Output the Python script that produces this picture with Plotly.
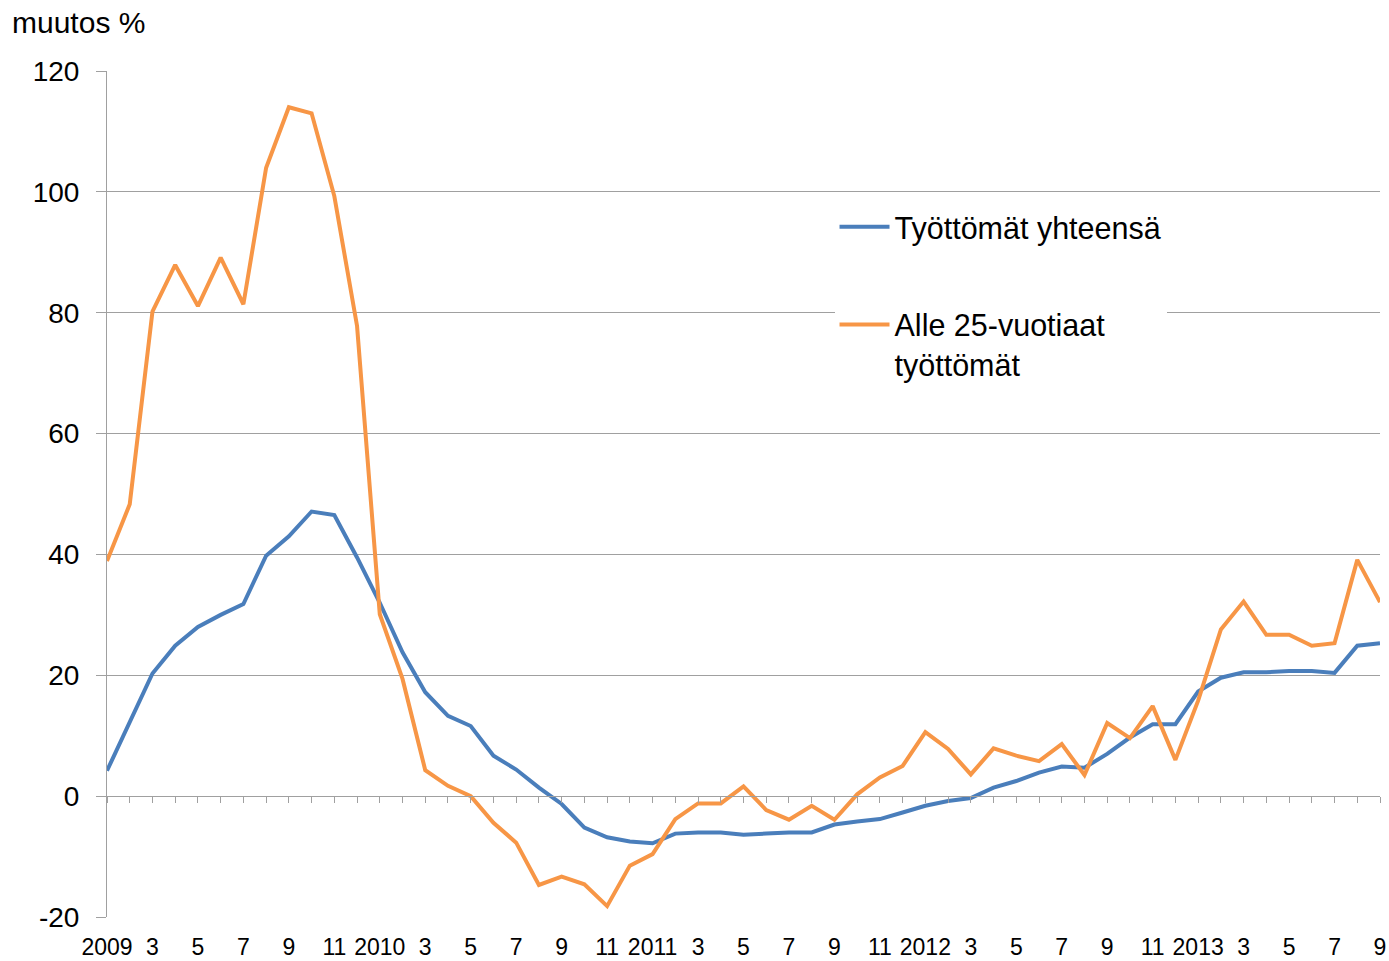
import plotly.graph_objects as go

# Months Jan 2009 .. Sep 2013
months = list(range(57))
tick_pos = list(range(0, 57, 2))
tick_text = []
for y in range(2009, 2014):
    for m in (1, 3, 5, 7, 9, 11):
        tick_text.append(str(y) if m == 1 else str(m))
tick_text = tick_text[:len(tick_pos)]

y_ticks = [-20, 0, 20, 40, 60, 80, 100, 120]
y_tick_text = ["-20", "0", "20", "40", "60", "80", "100", "120"]

total = [4.2, 12.2, 20.3, 24.9, 28.0, 30.0, 31.8, 39.8, 43.0, 47.1, 46.5, 39.5,
         32.0, 23.8, 17.2, 13.3, 11.6, 6.7, 4.4, 1.4, -1.3, -5.2, -6.8, -7.5,
         -7.8, -6.2, -6.0, -6.0, -6.4, -6.2, -6.0, -6.0, -4.7, -4.2, -3.8, -2.7,
         -1.6, -0.8, -0.3, 1.4, 2.5, 3.9, 4.9, 4.7, 7.0, 9.7, 11.9, 11.9,
         17.3, 19.6, 20.5, 20.5, 20.7, 20.7, 20.4, 24.9, 25.3]

youth = [38.9, 48.3, 80.2, 87.9, 81.1, 89.1, 81.4, 104.0, 114.0, 113.0, 99.3, 77.8,
         30.1, 19.4, 4.3, 1.7, 0.0, -4.4, -7.7, -14.7, -13.3, -14.6, -18.2, -11.5,
         -9.6, -3.8, -1.2, -1.2, 1.6, -2.3, -3.9, -1.6, -3.9, 0.3, 3.1, 5.0,
         10.6, 7.8, 3.6, 7.9, 6.7, 5.8, 8.6, 3.5, 12.1, 9.6, 14.9, 6.0,
         15.8, 27.6, 32.2, 26.7, 26.7, 24.9, 25.3, 39.1, 32.1]

names = ["Työttömät yhteensä", "Alle 25-vuotiaat<br>työttömät"]
colors = ["#4a7ebb", "#f79646"]

FONT = "Liberation Sans, Arial, sans-serif"
GRID = "#a0a0a0"

fig = go.Figure()
fig.add_trace(go.Scatter(x=months, y=total, mode="lines", name=names[0],
                         legendgroup="a",
                         line=dict(color=colors[0], width=4)))
fig.add_trace(go.Scatter(x=months, y=youth, mode="lines", name=names[1],
                         legendgroup="b", xaxis="x2",
                         line=dict(color=colors[1], width=4)))

fig.update_layout(
    width=1389, height=961,
    margin=dict(l=107, r=9, t=71, b=44, autoexpand=False),
    paper_bgcolor="white", plot_bgcolor="white",
    font=dict(family=FONT, color="#000000"),
    showlegend=True,
    legend=dict(
        x=0.5715, y=0.847, xanchor="left", yanchor="top",
        bgcolor="white", borderwidth=0,
        font=dict(family=FONT, size=30.5, color="#000000"),
        tracegroupgap=55, valign="top", itemwidth=50,
    ),
    xaxis=dict(
        range=[0, 56], tickmode="array", tickvals=tick_pos, ticktext=tick_text,
        ticks="", showgrid=False, zeroline=False, showline=False,
        tickfont=dict(family=FONT, size=23, color="#000000"),
        ticklabelstandoff=14, automargin=False,
    ),
    xaxis2=dict(
        range=[0, 56], overlaying="x", anchor="free", position=20 / 140,
        side="bottom", tickmode="linear", tick0=0, dtick=1,
        ticks="outside", ticklen=6, tickcolor=GRID, tickwidth=1,
        showticklabels=False, showgrid=False, zeroline=False,
        showline=True, linecolor=GRID, linewidth=1, automargin=False,
    ),
    yaxis=dict(
        range=[-20, 120], tickmode="array", tickvals=y_ticks, ticktext=y_tick_text,
        showgrid=True, gridcolor=GRID, gridwidth=1,
        zeroline=False, showline=True, linecolor=GRID, linewidth=1,
        ticks="outside", ticklen=10, tickcolor=GRID,
        tickfont=dict(family=FONT, size=28, color="#000000"),
        ticklabelstandoff=11, automargin=False,
    ),
    annotations=[dict(
        text="muutos %", xref="paper", yref="paper",
        x=-(107 - 10) / 1273, y=1 + (71 - 22) / 846,
        xanchor="left", yanchor="middle", showarrow=False,
        font=dict(family=FONT, size=30, color="#000000"),
    )],
)

fig.write_html(
    "out.html",
    config={"displayModeBar": False},
    post_script="document.body.style.margin='0';document.body.style.overflow='hidden';",
)
